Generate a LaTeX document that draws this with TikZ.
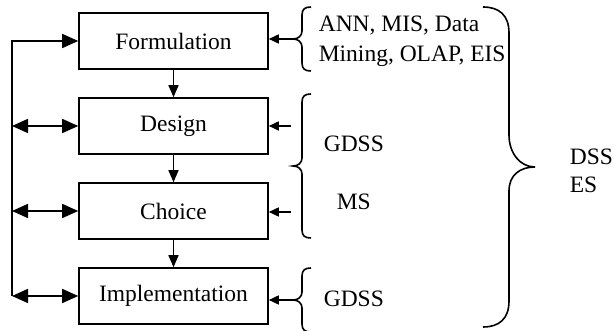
\documentclass[tikz,border=0pt]{standalone}
\usepackage{fontspec}
\setmainfont{Liberation Serif}
\usetikzlibrary{arrows.meta}

% left-opening brace: top, middle (tip) and bottom heights
\newcommand\openbr[3]{%
  \draw (311,#1) .. controls (305,#1) and (302,#1-2) .. (302,#1-8)
    -- (302,#2+8) .. controls (302,#2+3) and (298,#2) .. (293,#2)
    .. controls (298,#2) and (302,#2-3) .. (302,#2-8)
    -- (302,#3+8) .. controls (302,#3+2) and (305,#3) .. (311,#3);}

\begin{document}
\begin{tikzpicture}[x=1pt,y=1pt,line width=1.6pt,
  txt/.style={font=\fontsize{23.5}{30}\selectfont},
  stage/.style={draw,txt,minimum width=189pt,minimum height=56pt,inner sep=0pt},
  lbl/.style={txt,anchor=base west,inner sep=0pt},
  bigtip/.style={-{Triangle[length=16pt,width=14pt]}},
  bigboth/.style={{Triangle[length=16pt,width=14pt]}-{Triangle[length=16pt,width=14pt]}},
  downtip/.style={-{Triangle[length=12pt,width=10pt]}},
  intip/.style={-{Triangle[length=10pt,width=9pt]}}]
\useasboundingbox (0,0) rectangle (614,331);

% stages
\node[stage] (form) at (173.5,290) {Formulation};
\node[stage] (des)  at (173.5,205) {Design};
\node[stage] (cho)  at (173.5,120) {Choice};
\node[stage] (impl) at (173.5,35)  {Implementation};

% feedback line on the left
\coordinate (lx) at (12,0);
\draw[bigtip]  (lx |- impl.west) -- (lx |- form.west) -- (form.west);
\draw[bigboth] (lx |- des.west) -- (des.west);
\draw[bigboth] (lx |- cho.west) -- (cho.west);
\draw[bigboth] (lx |- impl.west) -- (impl.west);

% stage sequence
\draw[downtip] (form.south) -- (des.north);
\draw[downtip] (des.south) -- (cho.north);
\draw[downtip] (cho.south) -- (impl.north);

% tool braces
\openbr{324}{292}{260}
\openbr{237}{165}{93}
\openbr{63}{31}{-1}
\coordinate (b1) at (293,292);
\coordinate (s2) at (291,205);
\coordinate (s3) at (291,119);
\coordinate (b3) at (293,31);
\draw[intip] (b1) -- (b1 -| form.east);
\draw[intip] (s2) -- (s2 -| des.east);
\draw[intip] (s3) -- (s3 -| cho.east);
\draw[intip] (b3) -- (b3 -| impl.east);

\node[lbl] (t1a) at (318,299) {ANN, MIS, Data};
\node[lbl] (t1b) at (318,269) {Mining, OLAP, EIS};
\node[lbl] (t2)  at (323,179) {GDSS};
\node[lbl] (t3)  at (336,121) {MS};
\node[lbl] (t4)  at (323,24)  {GDSS};

% overall brace
\draw (483,324) .. controls (499,324) and (509,316) .. (509,298)
  -- (509,196) .. controls (509,178) and (520,164) .. (535,164)
  .. controls (520,164) and (509,156) .. (509,140)
  -- (509,30) .. controls (509,12) and (499,4) .. (483,4);
\node[lbl] (t5) at (569,166) {DSS};
\node[lbl] (t6) at (569,138) {ES};
\end{tikzpicture}
\end{document}
